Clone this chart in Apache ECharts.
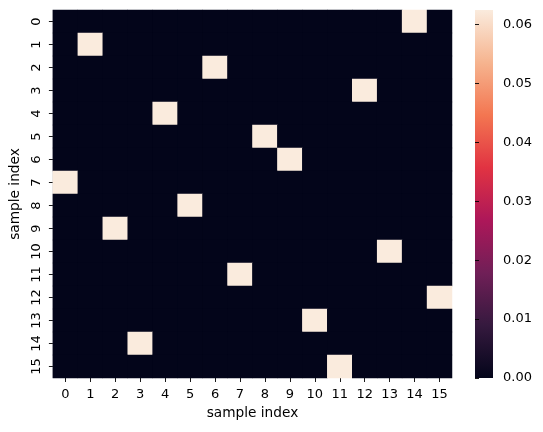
<!DOCTYPE html>
<html>
<head>
<meta charset="utf-8">
<script src="https://cdn.jsdelivr.net/npm/echarts@6/dist/echarts.min.js"></script>
<style>
  html, body { margin: 0; padding: 0; background: #fff; }
  #chart { width: 543px; height: 432px; }
</style>
</head>
<body>
<div id="chart"></div>
<script>
// 16 samples, each row has a single hot cell (permutation matrix / 16)
const labels = ['0', '1', '2', '3', '4', '5', '6', '7', '8', '9', '10', '11', '12', '13', '14', '15']
const hotCol = [14, 1, 6, 12, 4, 8, 9, 0, 5, 2, 13, 7, 15, 10, 3, 11]
const hotValue = 0.0625
const cbarTicks = [0, 0.01, 0.02, 0.03, 0.04, 0.05, 0.06]
// seaborn "rocket" colormap stops
const rocket = ['#03051a', '#35193e', '#701f57', '#ad1759', '#e13342', '#f37651', '#f6b48f', '#faebdd']

const cells = []
for (let r = 0; r < labels.length; r++) {
  for (let c = 0; c < labels.length; c++) {
    cells.push([c, r, hotCol[r] === c ? hotValue : 0])
  }
}

const font = 'DejaVu Sans'
const tickStyle = { show: true, length: 4, lineStyle: { color: '#000', width: 0.9 } }

const plotTop = 10
const plotH = 368

// colorbar drawn as the gradient background of its own little grid
const cbarGradient = new echarts.graphic.LinearGradient(0, 1, 0, 0,
  rocket.map((c, i) => ({ offset: i / (rocket.length - 1), color: c })))

const chart = echarts.init(document.getElementById('chart'))
chart.setOption({
  animation: false,
  textStyle: { fontFamily: font },
  grid: [
    // dark backdrop hides hairline seams between neighbouring cells
    { left: 52, top: plotTop, width: 400, height: plotH, show: true, borderWidth: 0, backgroundColor: rocket[0] },
    { left: 475, top: plotTop, width: 18, height: plotH, show: true, borderWidth: 0, backgroundColor: cbarGradient },
  ],
  xAxis: [
    {
      gridIndex: 0,
      type: 'category',
      data: labels,
      position: 'bottom',
      axisLine: { show: false },
      axisTick: { ...tickStyle, alignWithLabel: true },
      axisLabel: { color: '#000', fontFamily: font, fontSize: 13, margin: 10 },
      splitLine: { show: false },
      name: 'sample index',
      nameLocation: 'middle',
      nameGap: 28,
      nameTextStyle: { color: '#000', fontFamily: font, fontSize: 13.7 },
    },
    { gridIndex: 1, type: 'value', min: 0, max: 1, show: false },
  ],
  yAxis: [
    {
      gridIndex: 0,
      type: 'category',
      data: labels,
      inverse: true,
      axisLine: { show: false },
      axisTick: { ...tickStyle, alignWithLabel: true },
      axisLabel: { color: '#000', fontFamily: font, fontSize: 13, rotate: 90, margin: 10 },
      splitLine: { show: false },
      name: 'sample index',
      nameLocation: 'middle',
      nameRotate: 90,
      nameGap: 30,
      nameTextStyle: { color: '#000', fontFamily: font, fontSize: 13.7 },
    },
    {
      gridIndex: 1,
      type: 'value',
      min: 0,
      max: hotValue,
      position: 'right',
      axisLine: { show: false },
      axisTick: { ...tickStyle, customValues: cbarTicks },
      axisLabel: {
        color: '#000', fontFamily: font, fontSize: 13, margin: 10,
        customValues: cbarTicks,
        formatter: (v) => v.toFixed(2),
      },
      splitLine: { show: false },
    },
  ],
  visualMap: {
    type: 'continuous',
    show: false,
    seriesIndex: 0,
    min: 0,
    max: hotValue,
    inRange: { color: rocket },
  },
  series: [
    {
      type: 'heatmap',
      xAxisIndex: 0,
      yAxisIndex: 0,
      data: cells,
      itemStyle: { borderWidth: 0 },
      emphasis: { disabled: true },
    },
  ],
})
</script>
</body>
</html>
